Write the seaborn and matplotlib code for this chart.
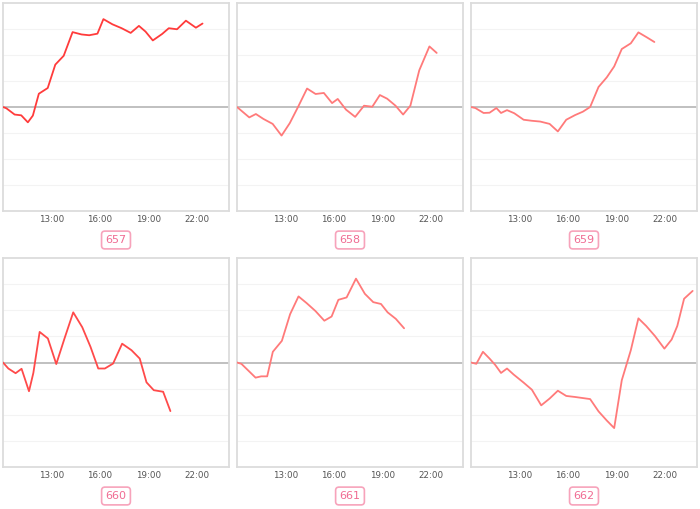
import numpy as np
import pandas as pd
import matplotlib
matplotlib.use("Agg")
import matplotlib.pyplot as plt
import seaborn as sns

# ---- data ----
panel_ids = ["657", "658", "659", "660", "661", "662"]

t657 = [10.00, 10.21, 10.72, 11.13, 11.54, 11.85, 12.22, 12.77, 13.24, 13.76, 14.31, 14.87, 15.34,
        15.85, 16.22, 16.78, 17.35, 17.91, 18.42, 18.83, 19.28, 19.86, 20.27, 20.78, 21.33, 21.95, 22.36]
v657 = [0, -0.05, -0.29, -0.32, -0.59, -0.33, 0.51, 0.73, 1.63, 1.97, 2.88, 2.79, 2.76,
        2.82, 3.38, 3.18, 3.03, 2.85, 3.12, 2.90, 2.56, 2.81, 3.03, 2.99, 3.32, 3.05, 3.21]

t658 = [10.00, 10.76, 11.17, 11.64, 12.21, 12.76, 13.27, 13.78, 14.34, 14.87, 15.38, 15.89, 16.24,
        16.75, 17.32, 17.87, 18.38, 18.85, 19.30, 19.82, 20.29, 20.74, 21.29, 21.92, 22.37]
v658 = [0, -0.40, -0.27, -0.46, -0.65, -1.10, -0.62, 0.0, 0.71, 0.50, 0.54, 0.15, 0.31,
        -0.10, -0.38, 0.05, 0.01, 0.46, 0.32, 0.05, -0.29, 0.05, 1.41, 2.33, 2.08]

t659 = [10.00, 10.27, 10.78, 11.15, 11.57, 11.86, 12.23, 12.68, 13.26, 13.77, 14.29, 14.87, 15.38,
        15.90, 16.45, 16.93, 17.38, 17.90, 18.41, 18.87, 19.34, 19.90, 20.37, 20.89, 21.36]
v659 = [0, -0.04, -0.23, -0.22, -0.04, -0.23, -0.12, -0.24, -0.49, -0.53, -0.56, -0.65, -0.94,
        -0.49, -0.31, -0.18, 0.0, 0.77, 1.14, 1.56, 2.23, 2.45, 2.87, 2.68, 2.50]

t660 = [10.00, 10.33, 10.78, 11.15, 11.61, 11.88, 12.27, 12.78, 13.30, 13.81, 14.35, 14.91, 15.42,
        15.90, 16.31, 16.82, 17.38, 17.96, 18.47, 18.89, 19.34, 19.92, 20.37]
v660 = [0, -0.23, -0.41, -0.24, -1.10, -0.40, 1.17, 0.92, -0.06, 0.92, 1.92, 1.35, 0.60,
        -0.23, -0.23, -0.04, 0.72, 0.47, 0.15, -0.76, -1.06, -1.12, -1.86]

t661 = [10.00, 10.27, 10.72, 11.15, 11.50, 11.87, 12.22, 12.78, 13.29, 13.81, 14.32, 14.86, 15.41,
        15.86, 16.28, 16.79, 17.37, 17.92, 18.44, 18.92, 19.33, 19.84, 20.35]
v661 = [0, -0.05, -0.32, -0.58, -0.53, -0.53, 0.41, 0.83, 1.85, 2.53, 2.27, 1.97, 1.60,
        1.76, 2.40, 2.49, 3.21, 2.63, 2.31, 2.24, 1.92, 1.67, 1.31]

t662 = [10.00, 10.33, 10.74, 11.15, 11.51, 11.86, 12.23, 12.64, 13.26, 13.77, 14.35, 14.87, 15.38,
        15.90, 16.45, 17.38, 17.90, 18.41, 18.87, 19.34, 19.90, 20.37, 20.85, 21.40, 21.98, 22.43,
        22.78, 23.20, 23.73]
v662 = [0, -0.05, 0.41, 0.15, -0.10, -0.40, -0.23, -0.46, -0.77, -1.04, -1.64, -1.38, -1.08,
        -1.28, -1.32, -1.40, -1.87, -2.22, -2.51, -0.68, 0.47, 1.69, 1.40, 1.01, 0.53, 0.88,
        1.40, 2.44, 2.74]

tick_hours = [13, 16, 19, 22]
tick_labels = ["13:00", "16:00", "19:00", "22:00"]

series = [(t657, v657), (t658, v658), (t659, v659), (t660, v660), (t661, v661), (t662, v662)]
line_colors = ["#ff3b3b", "#ff7a7a", "#ff7a7a", "#ff4a4a", "#ff7a7a", "#ff7a7a"]

# ---- figure ----
sns.set_theme(style="white")
plt.rcParams["font.family"] = ["DejaVu Sans"]
W, H = 700, 509
fig = plt.figure(figsize=(W / 100, H / 100), dpi=100)

col_x = [(3, 229), (237, 463), (471, 697)]
row_y = [(3, 211), (258, 467)]
label_y = [240, 496]

for i, (tt, vv) in enumerate(series):
    r, c = divmod(i, 3)
    x0, x1 = col_x[c]
    y0, y1 = row_y[r]
    ax = fig.add_axes([x0 / W, 1 - y1 / H, (x1 - x0) / W, (y1 - y0) / H])
    df = pd.DataFrame({"t": tt, "v": vv})
    ax.set_xlim(10, 24)
    ax.set_ylim(-4, 4)
    for g in [-3, -2, -1, 1, 2, 3]:
        ax.axhline(g, color="#f3f3f3", lw=0.8, zorder=0)
    ax.axhline(0, color="#b5b5b5", lw=1.2, zorder=1)
    sns.lineplot(data=df, x="t", y="v", ax=ax, color=line_colors[i], lw=1.3,
                 estimator=None, sort=False, zorder=3)
    ax.set_xticks(tick_hours)
    ax.set_xticklabels(tick_labels, fontsize=6.3, color="#555555")
    ax.set_yticks([])
    ax.set_xlabel("")
    ax.set_ylabel("")
    ax.tick_params(axis="x", length=0, pad=3)
    for s in ax.spines.values():
        s.set_color("#dcdcdc")
        s.set_linewidth(1.3)
    fig.text(((x0 + x1) / 2) / W, 1 - label_y[r] / H, panel_ids[i],
             ha="center", va="center", fontsize=8, color="#f06b92",
             bbox=dict(boxstyle="round,pad=0.35,rounding_size=0.3", fc="white",
                       ec="#f7a3bb", lw=1.2))

fig.savefig("out.png", dpi=100, facecolor="white")
